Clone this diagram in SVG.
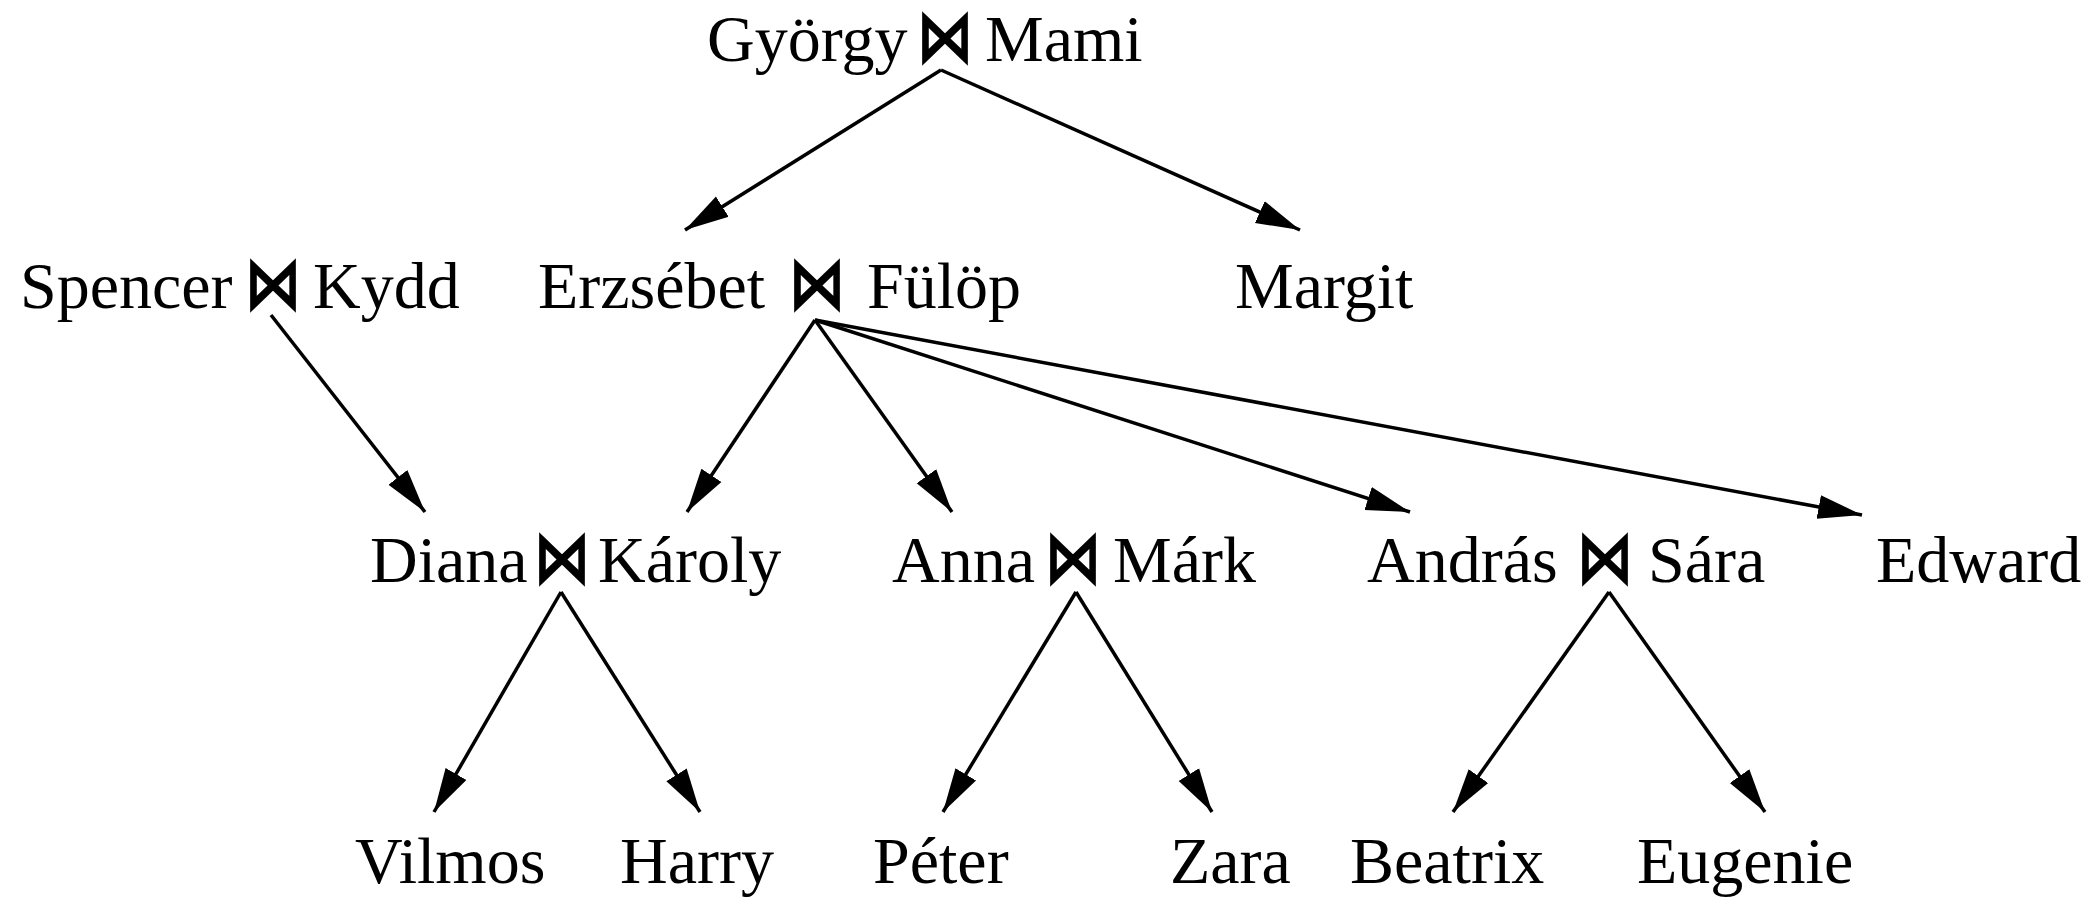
<svg xmlns="http://www.w3.org/2000/svg" width="2098" height="918" viewBox="0 0 2098 918">
<style>
.t{font-family:"Liberation Serif","Times New Roman",serif;font-size:66px;fill:#000}
.b{font-family:"DejaVu Sans",sans-serif;font-size:58px;font-weight:bold;fill:#000;text-anchor:middle}
.e{stroke:#000;stroke-width:3.5;fill:none;marker-end:url(#ah)}
</style>
<defs>
<marker id="ah" markerUnits="userSpaceOnUse" markerWidth="46" markerHeight="28" viewBox="0 0 46 28" refX="44" refY="14" orient="auto">
<path d="M0,2 L44,14 L0,26 z" fill="#000"/>
</marker>
</defs>
<rect width="2098" height="918" fill="#fff"/>
<g id="connectors">
<line class="e" x1="941" y1="70" x2="685" y2="230"/>
<line class="e" x1="941" y1="70" x2="1300" y2="230"/>
<line class="e" x1="271" y1="315" x2="425" y2="512"/>
<line class="e" x1="815" y1="320" x2="687" y2="512"/>
<line class="e" x1="815" y1="320" x2="952" y2="512"/>
<line class="e" x1="815" y1="320" x2="1410" y2="512"/>
<line class="e" x1="815" y1="320" x2="1862" y2="515"/>
<line class="e" x1="561" y1="592" x2="434" y2="812"/>
<line class="e" x1="561" y1="592" x2="700" y2="812"/>
<line class="e" x1="1076" y1="592" x2="943" y2="812"/>
<line class="e" x1="1076" y1="592" x2="1212" y2="812"/>
<line class="e" x1="1609" y1="592" x2="1453" y2="812"/>
<line class="e" x1="1609" y1="592" x2="1765" y2="812"/>
</g>
<g id="n_gyorgy"><text class="t" x="707" y="61">György</text><text class="b" transform="translate(945,62) scale(1,1.3)">⋈</text><text class="t" x="985" y="61">Mami</text></g>
<g id="n_spencer"><text class="t" x="20" y="308">Spencer</text><text class="b" transform="translate(273,309) scale(1,1.3)">⋈</text><text class="t" x="313" y="308">Kydd</text></g>
<g id="n_erzsebet"><text class="t" x="538" y="308">Erzsébet</text><text class="b" transform="translate(817,309) scale(1,1.3)">⋈</text><text class="t" x="867" y="308">Fülöp</text></g>
<g id="n_margit"><text class="t" x="1235" y="308">Margit</text></g>
<g id="n_diana"><text class="t" x="370" y="582">Diana</text><text class="b" transform="translate(562,583) scale(1,1.3)">⋈</text><text class="t" x="598" y="582">Károly</text></g>
<g id="n_anna"><text class="t" x="892" y="582">Anna</text><text class="b" transform="translate(1073,583) scale(1,1.3)">⋈</text><text class="t" x="1113" y="582">Márk</text></g>
<g id="n_andras"><text class="t" x="1367" y="582">András</text><text class="b" transform="translate(1605,583) scale(1,1.3)">⋈</text><text class="t" x="1648" y="582">Sára</text></g>
<g id="n_edward"><text class="t" x="1876" y="582">Edward</text></g>
<g id="n_vilmos"><text class="t" x="355" y="883">Vilmos</text></g>
<g id="n_harry"><text class="t" x="620" y="883">Harry</text></g>
<g id="n_peter"><text class="t" x="873" y="883">Péter</text></g>
<g id="n_zara"><text class="t" x="1170" y="883">Zara</text></g>
<g id="n_beatrix"><text class="t" x="1350" y="883">Beatrix</text></g>
<g id="n_eugenie"><text class="t" x="1637" y="883">Eugenie</text></g>
</svg>
